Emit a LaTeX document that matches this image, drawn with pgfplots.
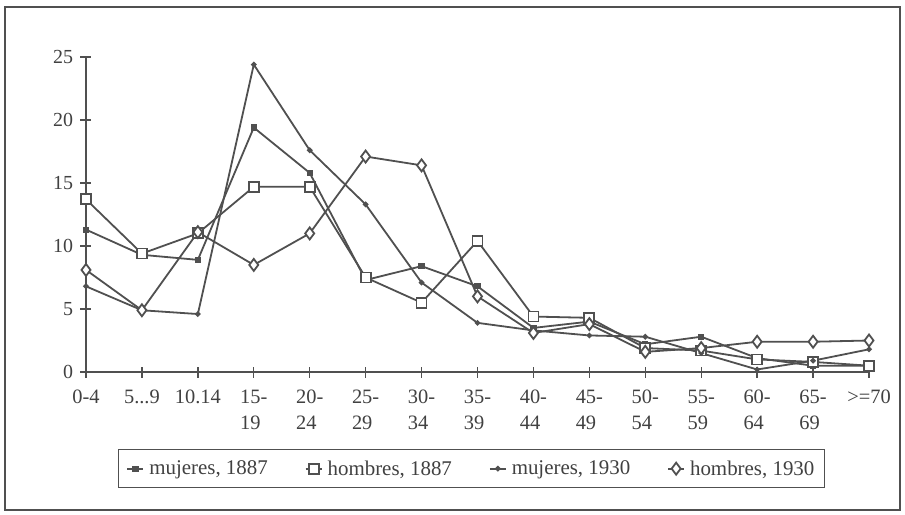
\documentclass[border=0pt]{standalone}
\usepackage{fontspec}
\setmainfont{Liberation Serif}
\usepackage{pgfplots}
\pgfplotsset{compat=1.18}
\definecolor{ink}{RGB}{80,80,80}
\definecolor{txt}{RGB}{65,65,65}
\begin{document}
\begin{tikzpicture}
\begin{axis}[name=ax, scale only axis, width=783bp, height=315bp,
  xmin=0, xmax=14, ymin=0, ymax=25,
  axis lines*=left,
  axis line style={ink, line width=1.6bp},
  xtick={0,1,2,3,4,5,6,7,8,9,10,11,12,13,14},
  xticklabels={0-4,5.{}.{}.9,10.14,{15-\\19},{20-\\24},{25-\\29},{30-\\34},{35-\\39},{40-\\44},{45-\\49},{50-\\54},{55-\\59},{60-\\64},{65-\\69},{>=70}},
  ytick={0,5,10,15,20,25},
  tick align=center, major tick length=11bp,
  tick style={ink, line width=1.4bp},
  /pgf/number format/assume math mode=true,
  x tick label style={font=\fontsize{20.5}{26}\selectfont, text=txt, align=left, anchor=north, yshift=-9bp},
  y tick label style={font=\fontsize{20}{22}\selectfont, text=txt, xshift=-4bp},
  legend columns=4,
  legend style={at={(0.0405,-0.244)}, anchor=north west, draw=ink, line width=1.6bp,
    font=\fontsize{21}{24}\selectfont, text=txt, inner xsep=8bp, inner ysep=9bp,
    /tikz/every odd column/.append style={column sep=3bp},
    /tikz/every even column/.append style={column sep=35bp}},
  legend image code/.code={\draw[mark repeat=2, mark phase=2, #1] plot coordinates {(0bp,0bp) (8bp,0bp) (16bp,0bp)};},
]
\addplot[ink, line width=1.8bp, mark=square*, mark size=2.2bp] coordinates {
 (0,11.3) (1,9.3) (2,8.9) (3,19.4) (4,15.8) (5,7.3) (6,8.4) (7,6.8) (8,3.5) (9,4.0) (10,2.2) (11,2.8) (12,1.1) (13,0.5) (14,0.5)};
\addlegendentry{mujeres, 1887}
\addplot[ink, line width=1.8bp, mark=square*, mark size=5bp, mark options={fill=white}] coordinates {
 (0,13.7) (1,9.4) (2,11.0) (3,14.7) (4,14.7) (5,7.5) (6,5.5) (7,10.4) (8,4.4) (9,4.3) (10,1.9) (11,1.7) (12,1.0) (13,0.8) (14,0.5)};
\addlegendentry{hombres, 1887}
\addplot[ink, line width=1.8bp, mark=*, mark size=1.8bp] coordinates {
 (0,6.8) (1,4.9) (2,4.6) (3,24.4) (4,17.6) (5,13.3) (6,7.1) (7,3.9) (8,3.3) (9,2.9) (10,2.8) (11,1.5) (12,0.2) (13,0.9) (14,1.8)};
\addlegendentry{mujeres, 1930}
\addplot[ink, line width=1.8bp, mark=diamond*, mark size=6bp, mark options={fill=white}] coordinates {
 (0,8.1) (1,4.9) (2,11.1) (3,8.5) (4,11.0) (5,17.1) (6,16.4) (7,6.0) (8,3.1) (9,3.8) (10,1.6) (11,1.9) (12,2.4) (13,2.4) (14,2.5)};
\addlegendentry{hombres, 1930}
\end{axis}
\draw[ink, line width=1.4bp] ([shift={(-81bp,-138bp)}]ax.south west) rectangle ([shift={(814bp,365bp)}]ax.south west);
\path ([shift={(-86bp,-143bp)}]ax.south west) rectangle ([shift={(819bp,372bp)}]ax.south west);
\end{tikzpicture}
\end{document}
